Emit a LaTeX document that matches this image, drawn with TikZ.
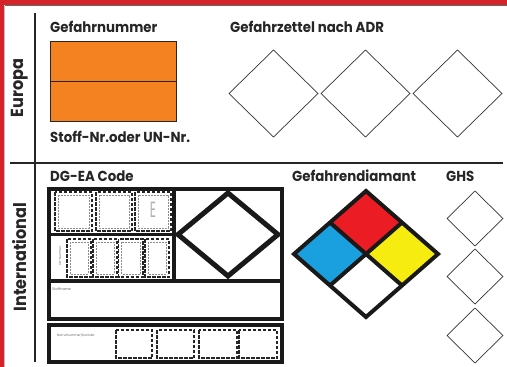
\documentclass[tikz,border=0pt]{standalone}
\usepackage{fontspec}
\usetikzlibrary{calc}
\setmainfont{Poppins}
\newfontfamily\hdfont{Poppins}[FakeStretch=0.92]
\definecolor{bandred}{HTML}{D5232C}
\definecolor{plateorange}{HTML}{F58220}
\definecolor{nfred}{HTML}{EC1C24}
\definecolor{nfblue}{HTML}{1AA0DF}
\definecolor{nfyellow}{HTML}{F7EC10}
\begin{document}
\begin{tikzpicture}[x=1pt,y=-1pt,
  hd/.style={font=\hdfont\bfseries\fontsize{14.5}{14.5}\selectfont, anchor=base west, inner sep=0pt, text=black!85},
  side/.style={font=\hdfont\bfseries\fontsize{17.5}{17.5}\selectfont, rotate=90, inner sep=0pt, text=black!85},
  tiny/.style={font=\fontsize{3.6}{3.6}\selectfont, inner sep=0pt, text=black!60},
  frame/.style={draw=black!85, line width=1.8pt},
  thin/.style={draw=black!80, line width=0.7pt},
  thick/.style={draw=black!90, line width=4pt, line join=miter},
  dgbox/.style={draw=black!85, line width=1.6pt, dash pattern=on 3.5pt off 1.5pt},
  dgin/.style={draw=black!45, line width=0.5pt, dash pattern=on 2pt off 1pt}
]
\useasboundingbox (0,0) rectangle (507,367);
\fill[white] (0,0) rectangle (507,367);
% red border
\fill[bandred] (0,0) rectangle (507,5);
\draw[black!60, line width=0.8pt] (4.5,5.6) -- (507,5.6);
\fill[bandred] (0,0) rectangle (4,367);
\draw[black!25, line width=0.6pt] (4.6,6) -- (4.6,367);
% grid lines
\coordinate (vt) at (35,13); \coordinate (vb) at (35,362);
\coordinate (hl) at (10,163); \coordinate (hr) at (503,163);
\draw[frame] (vt) -- (vb);
\draw[frame] (hl) -- (hr);
% side labels
\node[side] (eu) at (20,88) {Europa};
\node[side] (int) at (20,257) {International};
% Europe
\node[hd] (gn) at (50,32) {Gefahrnummer};
\node[draw=black!85, line width=1.4pt, fill=plateorange, minimum width=126pt, minimum height=40pt, anchor=north west, inner sep=0] (p1) at (50,41) {};
\node[draw=black!85, line width=1.4pt, fill=plateorange, minimum width=126pt, minimum height=40pt, anchor=north west, inner sep=0] (p2) at (50,81) {};
\node[hd] (un) at (50,142.5) {Stoff-Nr.oder UN-Nr.};
\node[hd] (adr) at (230,32) {Gefahrzettel nach ADR};
\foreach \i/\cx in {1/273.5,2/365.5,3/457.5}{
  \draw[thin] (\cx-44.5,93.5) -- (\cx,50) -- (\cx+44.5,93.5) -- (\cx,137) -- cycle;
}
% International
\node[hd] (dg) at (50,181.5) {DG-EA Code};
\node[hd] (gd) at (292,181.5) {Gefahrendiamant};
\node[hd] (ghs) at (446,181.5) {GHS};
% DG-EA
\draw[black!90, line width=3.6pt] (49,189) rectangle (282,319);
\draw[black!90, line width=3.6pt] (174,189) -- (174,281);
\draw[black!90, line width=3.6pt] (49,234.5) -- (174,234.5);
\draw[black!90, line width=3.6pt] (49,281) -- (282,281);
\draw[thick, line width=5pt] (228,193) -- (278,234.5) -- (228,276) -- (178,234.5) -- cycle;
\foreach \a/\b in {55/92,96/132,135/171}{
  \draw[dgbox] (\a,192) rectangle (\b,231);
  \draw[dgin] (\a+3,195) rectangle (\b-3,228);
}
\node[font=\fontsize{22}{22}\selectfont, text=black!30, inner sep=0] (e) at (153,210) {\scalebox{0.55}[1]{E}};
\foreach \a/\b in {67/91,93/117,118.5/143,145/169}{
  \draw[dgbox] (\a,239) rectangle (\b,277);
  \draw[dgin] (\a+3,242) rectangle (\b-3,274);
}
\node[tiny, rotate=90, font=\fontsize{3}{3}\selectfont] (unn) at (60,256) {UN-Nummer};
\node[tiny, anchor=west] (sn) at (52,289) {Stoffname};
\draw[black!90, line width=3.6pt] (49,325) rectangle (282,362);
\node[tiny, anchor=west, font=\fontsize{3.2}{3.2}\selectfont] (nk) at (57,335) {Notrufnummer/Kontakt};
\foreach \a/\b in {116/152,157/194,199/237,239/277}{
  \draw[dgbox] (\a,330) rectangle (\b,358);
}
% NFPA diamond
\coordinate (C) at (366,254);
\coordinate (T) at (366,191);
\coordinate (L) at (294,254);
\coordinate (R) at (438,254);
\coordinate (B) at (366,317);
\coordinate (TL) at ($(T)!0.5!(L)$);
\coordinate (TR) at ($(T)!0.5!(R)$);
\coordinate (BL) at ($(B)!0.5!(L)$);
\coordinate (BR) at ($(B)!0.5!(R)$);
\fill[nfred] (T) -- (TR) -- (C) -- (TL) -- cycle;
\fill[nfblue] (L) -- (TL) -- (C) -- (BL) -- cycle;
\fill[nfyellow] (R) -- (TR) -- (C) -- (BR) -- cycle;
\fill[white] (B) -- (BL) -- (C) -- (BR) -- cycle;
\draw[thick] (T) -- (R) -- (B) -- (L) -- cycle;
\draw[thick] (TL) -- (BR) (TR) -- (BL);
% GHS
\foreach \cy in {218.5,276.5,335.5}{
  \draw[thin] (447,\cy) -- (475,\cy-27.5) -- (503,\cy) -- (475,\cy+27.5) -- cycle;
}
\end{tikzpicture}
\end{document}
